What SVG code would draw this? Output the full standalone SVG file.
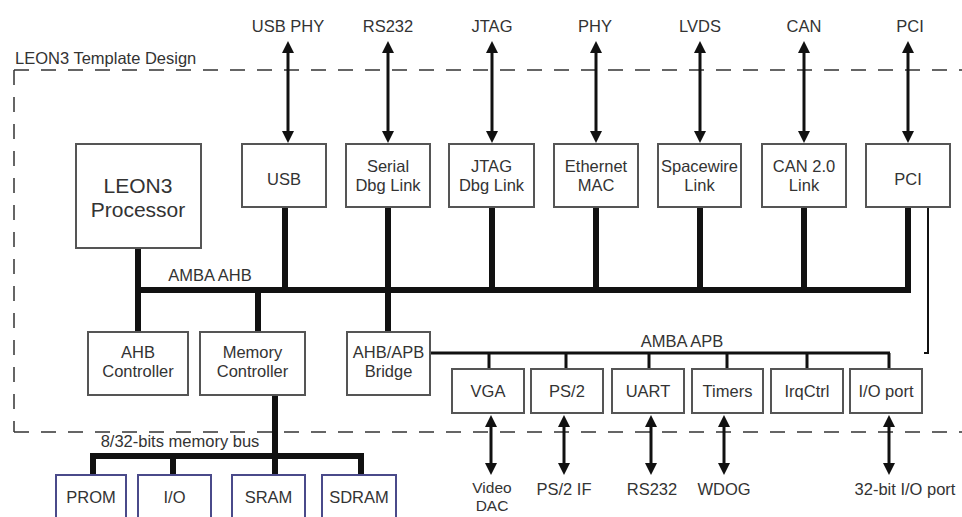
<svg xmlns="http://www.w3.org/2000/svg" width="962" height="517" viewBox="0 0 962 517">
<defs>
<marker id="ah" viewBox="0 0 12 12" refX="2" refY="6" markerWidth="12" markerHeight="12" markerUnits="userSpaceOnUse" orient="auto-start-reverse"><path d="M0,0 L12,6 L0,12 z" fill="#111"/></marker>
</defs>
<style>
text{font-family:"Liberation Sans",Arial,sans-serif;font-size:16.5px;fill:#333;text-anchor:middle}
.big{font-size:21px}
.sm{font-size:15.5px}
.start{text-anchor:start}
.box{fill:none;stroke:#555;stroke-width:2}
.mem{fill:none;stroke:#4a4a8a;stroke-width:2}
.bus{stroke:#111;stroke-width:6;fill:none}
.thin{stroke:#111;stroke-width:3;fill:none}
.pcl{stroke:#111;stroke-width:2;fill:none}
.io{stroke:#111;stroke-width:3;marker-start:url(#ah);marker-end:url(#ah)}
.dash{stroke:#333;stroke-width:1.5;stroke-dasharray:15 12;fill:none}
</style>
<rect width="962" height="517" fill="#fff"/>

<g id="boundary">
<path class="dash" d="M14,70 H962 M14,70 V432 M14,432 H962"/>
<text class="start" x="15" y="64">LEON3 Template Design</text>
</g>

<g id="connectors">
<line class="io" x1="288" y1="51" x2="288" y2="133"/>
<line class="io" x1="388" y1="51" x2="388" y2="133"/>
<line class="io" x1="492" y1="51" x2="492" y2="133"/>
<line class="io" x1="596" y1="51" x2="596" y2="133"/>
<line class="io" x1="700" y1="51" x2="700" y2="133"/>
<line class="io" x1="804" y1="51" x2="804" y2="133"/>
<line class="io" x1="908" y1="51" x2="908" y2="133"/>
<path class="bus" d="M135,290 H911"/>
<path class="bus" d="M138,248 V332 M285,207 V290 M388,207 V290 M492,207 V290 M596,207 V290 M700,207 V290 M804,207 V290 M908,207 V290 M258,290 V332 M388,290 V332"/>
<path class="bus" d="M275,395 V456 M93,456 H362 M93,453 V475 M173,453 V475 M275,453 V475 M361,453 V475"/>
<path class="thin" d="M430,353 H890 M489,353 V369 M566,353 V369 M649,353 V369 M727,353 V369 M807,353 V369 M889,353 V369"/>
<path class="pcl" d="M928,207 V353 H924"/>
<line class="io" x1="491" y1="425" x2="491" y2="465"/>
<line class="io" x1="564" y1="425" x2="564" y2="465"/>
<line class="io" x1="651" y1="425" x2="651" y2="465"/>
<line class="io" x1="724" y1="425" x2="724" y2="465"/>
<line class="io" x1="889" y1="425" x2="889" y2="465"/>
</g>

<g id="ext-labels">
<text x="288" y="32">USB PHY</text>
<text x="388" y="32">RS232</text>
<text x="492" y="32">JTAG</text>
<text x="595" y="32">PHY</text>
<text x="700" y="32">LVDS</text>
<text x="804" y="32">CAN</text>
<text x="910" y="32">PCI</text>
<text class="sm" x="492" y="493">Video</text>
<text class="sm" x="492" y="511">DAC</text>
<text x="564" y="495">PS/2 IF</text>
<text x="652" y="495">RS232</text>
<text x="724" y="495">WDOG</text>
<text x="905" y="495">32-bit I/O port</text>
</g>

<g id="bus-labels">
<text x="210" y="281">AMBA AHB</text>
<text x="682" y="347">AMBA APB</text>
<text x="180" y="447">8/32-bits memory bus</text>
</g>

<g id="leon3"><rect class="box" x="76" y="144" width="125" height="104"/><text class="big" x="138" y="193">LEON3</text><text class="big" x="138" y="217">Processor</text></g>
<g id="usb"><rect class="box" x="242" y="144" width="84" height="63"/><text x="284" y="185">USB</text></g>
<g id="serial"><rect class="box" x="346" y="144" width="84" height="63"/><text x="388" y="172">Serial</text><text x="388" y="191">Dbg Link</text></g>
<g id="jtag"><rect class="box" x="449" y="144" width="85" height="63"/><text x="491.5" y="172">JTAG</text><text x="491.5" y="191">Dbg Link</text></g>
<g id="ethernet"><rect class="box" x="554" y="144" width="84" height="63"/><text x="596" y="172">Ethernet</text><text x="596" y="191">MAC</text></g>
<g id="spacewire"><rect class="box" x="658" y="144" width="83" height="63"/><text x="699.5" y="172">Spacewire</text><text x="699.5" y="191">Link</text></g>
<g id="can"><rect class="box" x="762" y="144" width="84" height="63"/><text x="804" y="172">CAN 2.0</text><text x="804" y="191">Link</text></g>
<g id="pci"><rect class="box" x="866" y="144" width="84" height="63"/><text x="908" y="185">PCI</text></g>

<g id="ahbctrl"><rect class="box" x="88" y="332" width="100" height="63"/><text x="138" y="358">AHB</text><text x="138" y="377">Controller</text></g>
<g id="memctrl"><rect class="box" x="200" y="332" width="105" height="63"/><text x="252.5" y="358">Memory</text><text x="252.5" y="377">Controller</text></g>
<g id="bridge"><rect class="box" x="347" y="332" width="83" height="63"/><text x="388.5" y="358">AHB/APB</text><text x="388.5" y="377">Bridge</text></g>

<g id="vga"><rect class="box" x="452" y="369" width="72" height="44"/><text x="488" y="397">VGA</text></g>
<g id="ps2"><rect class="box" x="531" y="369" width="72" height="44"/><text x="567" y="397">PS/2</text></g>
<g id="uart"><rect class="box" x="612" y="369" width="72" height="44"/><text x="648" y="397">UART</text></g>
<g id="timers"><rect class="box" x="692" y="369" width="71" height="44"/><text x="727.5" y="397">Timers</text></g>
<g id="irqctrl"><rect class="box" x="771" y="369" width="72" height="44"/><text x="807" y="397">IrqCtrl</text></g>
<g id="ioport"><rect class="box" x="850" y="369" width="72" height="44"/><text x="886" y="397">I/O port</text></g>

<g id="prom"><rect class="mem" x="56" y="475" width="70" height="50"/><text x="91" y="503">PROM</text></g>
<g id="io"><rect class="mem" x="138" y="475" width="73" height="50"/><text x="174.5" y="503">I/O</text></g>
<g id="sram"><rect class="mem" x="232" y="475" width="73" height="50"/><text x="268.5" y="503">SRAM</text></g>
<g id="sdram"><rect class="mem" x="322" y="475" width="74" height="50"/><text x="359" y="503">SDRAM</text></g>
</svg>
